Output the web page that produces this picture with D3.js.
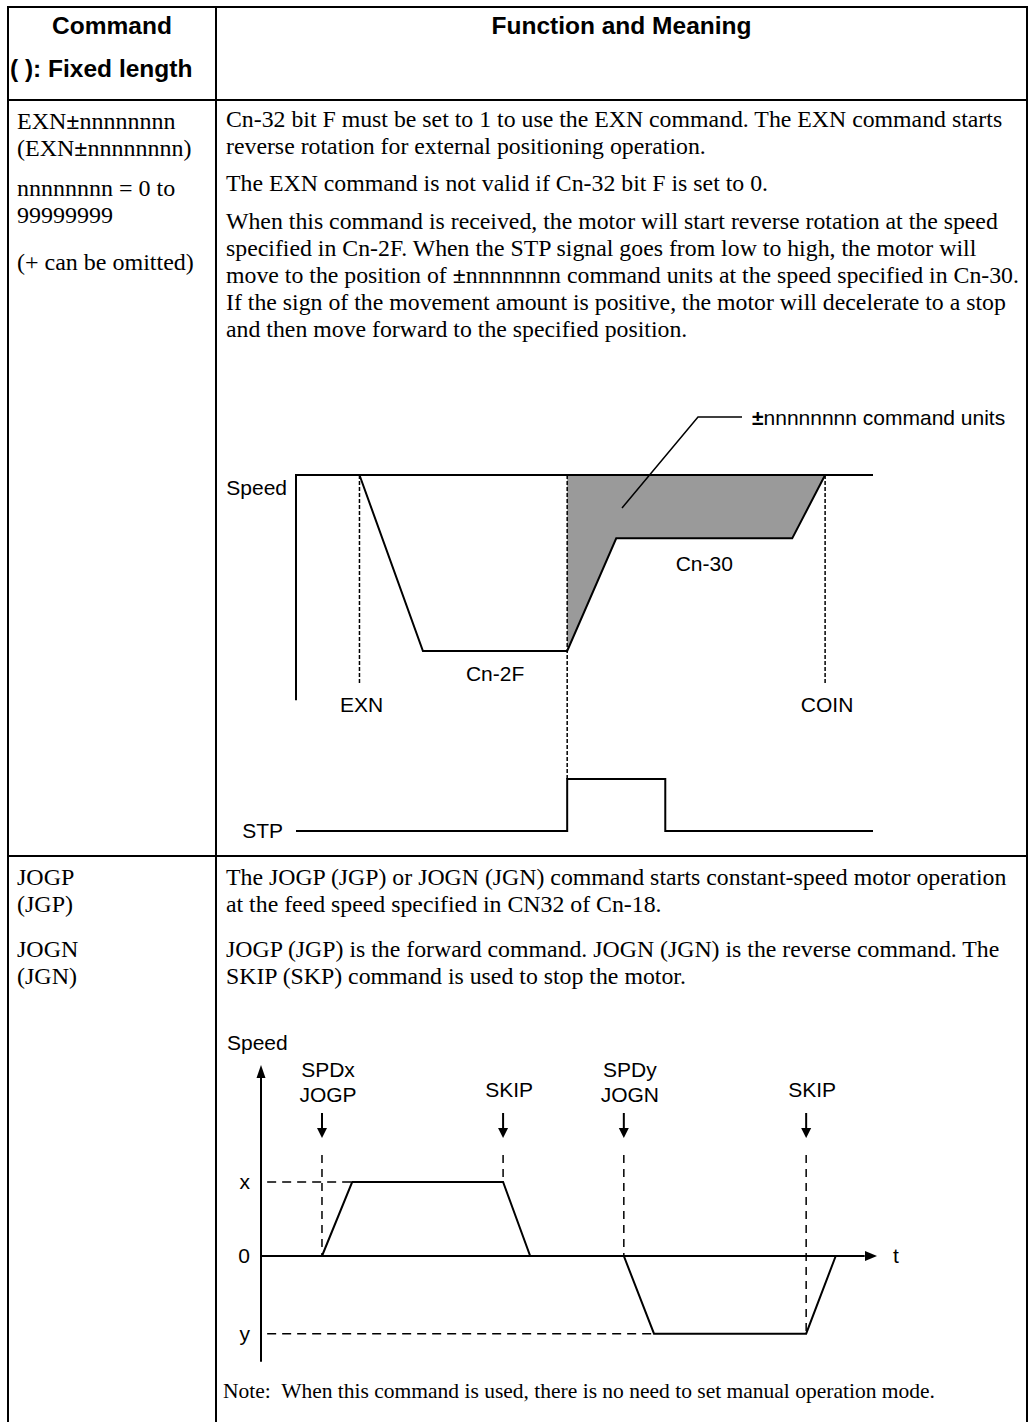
<!DOCTYPE html>
<html>
<head>
<meta charset="utf-8">
<script src="https://cdn.jsdelivr.net/npm/d3@7"></script>
<style>
body { margin: 0; background: #fff; }
svg { display: block; }
</style>
</head>
<body>
<script>
var width = 1035,
	height = 1422;

var serif = "'Liberation Serif','Times New Roman',serif";
var sans = "'Liberation Sans',Arial,Helvetica,sans-serif";

// table text
var headerTitles = ["Command", "( ): Fixed length", "Function and Meaning"];
var exnCommandLines = ["EXN±nnnnnnnn", "(EXN±nnnnnnnn)", "nnnnnnnn = 0 to", "99999999", "(+ can be omitted)"];
var exnCommandY = [129, 156, 196, 223, 270];
var exnMeaningLines = [
	"Cn-32 bit F must be set to 1 to use the EXN command. The EXN command starts",
	"reverse rotation for external positioning operation.",
	"The EXN command is not valid if Cn-32 bit F is set to 0.",
	"When this command is received, the motor will start reverse rotation at the speed",
	"specified in Cn-2F. When the STP signal goes from low to high, the motor will",
	"move to the position of ±nnnnnnnn command units at the speed specified in Cn-30.",
	"If the sign of the movement amount is positive, the motor will decelerate to a stop",
	"and then move forward to the specified position."
];
var exnMeaningY = [127, 154, 191, 229, 256, 283, 310, 337];
var jogCommandLines = ["JOGP", "(JGP)", "JOGN", "(JGN)"];
var jogMeaningLines = [
	"The JOGP (JGP) or JOGN (JGN) command starts constant-speed motor operation",
	"at the feed speed specified in CN32 of Cn-18.",
	"JOGP (JGP) is the forward command. JOGN (JGN) is the reverse command. The",
	"SKIP (SKP) command is used to stop the motor."
];
var jogLinesY = [885, 912, 957, 984];
var noteText = "Note:  When this command is used, there is no need to set manual operation mode.";

// EXN diagram: time 0..100, speed 0 (top) .. -100 (Cn-2F)
var exnProfileT = [11, 22, 47, 55.5, 86, 91.7];
var exnProfileV = [0, -100, -100, -36, -36, 0];
var exnMarkLabels = ["EXN", "COIN"];
var exnMarkT = [11, 91.7];
var exnStopT = 47;
var stpT = [0, 47, 47, 64, 64, 100];
var stpLevel = [0, 0, 1, 1, 0, 0];

// JOG diagram: time 0..100, speed x = 100, y = -105
var jogProfileT = [9.9, 14.8, 39.3, 43.7, 58.9, 63.8, 88.5, 93.3];
var jogProfileV = [0, 100, 100, 0, 0, -105, -105, 0];
var jogLevels = [100, 0, -105];
var jogLevelLabels = ["x", "0", "y"];
var jogCmdLabels = [["SPDx", "JOGP"], ["SKIP"], ["SPDy", "JOGN"], ["SKIP"]];
var jogCmdT = [9.9, 39.3, 58.9, 88.5];
var jogCmdV = [0, 100, 0, -105];

var svg = d3.select("body").append("svg")
	.attr("width", width)
	.attr("height", height);

svg.append("rect").attr("width", width).attr("height", height).attr("fill", "#fff");

// ---- table frame
var tableLeft = 8, tableMid = 216, tableRight = 1027;
var grid = svg.append("g").attr("stroke", "#000").attr("stroke-width", 2);
[7, 100, 856].forEach(function(y) {
	grid.append("line").attr("x1", tableLeft - 1).attr("x2", tableRight + 1).attr("y1", y).attr("y2", y);
});
[tableLeft, tableMid, tableRight].forEach(function(x) {
	grid.append("line").attr("x1", x).attr("x2", x).attr("y1", 6).attr("y2", height);
});

// header
function headText(x, y, t, anchor) {
	svg.append("text")
		.attr("x", x).attr("y", y)
		.attr("text-anchor", anchor)
		.style("font-family", sans).style("font-weight", "bold").style("font-size", "24.5px")
		.text(t);
}
headText((tableLeft + tableMid) / 2, 34, headerTitles[0], "middle");
headText(10, 77, headerTitles[1], "start");
headText((tableMid + tableRight) / 2, 34, headerTitles[2], "middle");

// body text, "±" is bold in the original
function bodyLines(x, lines, ys, size) {
	lines.forEach(function(line, i) {
		var t = svg.append("text")
			.attr("x", x).attr("y", ys[i])
			.style("font-family", serif).style("font-size", size + "px")
			.style("white-space", "pre");
		line.split("±").forEach(function(part, j) {
			if (j > 0) t.append("tspan").style("font-weight", "bold").text("±");
			t.append("tspan").text(part);
		});
	});
}
bodyLines(17, exnCommandLines, exnCommandY, 24);
bodyLines(226, exnMeaningLines, exnMeaningY, 23.8);
bodyLines(17, jogCommandLines, jogLinesY, 24);
bodyLines(226, jogMeaningLines, jogLinesY, 23.8);
bodyLines(223, [noteText], [1398], 21.5);

function label(g, x, y, t, anchor) {
	var el = g.append("text")
		.attr("x", x).attr("y", y)
		.attr("text-anchor", anchor || "middle")
		.style("font-family", sans).style("font-size", "21px")
		.attr("fill", "#000");
	t.split("±").forEach(function(part, j) {
		if (j > 0) el.append("tspan").style("font-weight", "bold").text("±");
		el.append("tspan").text(part);
	});
	return el;
}

// ---- EXN diagram
var ex = d3.scaleLinear().domain([0, 100]).range([296, 873]);
var ev = d3.scaleLinear().domain([0, -100]).range([475, 651]);
var stpY = d3.scaleLinear().domain([0, 1]).range([831, 779]);
var exn = svg.append("g");

var exnPts = exnProfileT.map(function(t, i) { return [t, exnProfileV[i]]; });
var lineE = d3.line().x(function(d) { return ex(d[0]); }).y(function(d) { return ev(d[1]); });

// shaded command units area
var shaded = [[exnStopT, 0]].concat(exnPts.filter(function(d) { return d[0] >= exnStopT; }));
exn.append("path")
	.datum(shaded)
	.attr("d", lineE.curve(d3.curveLinearClosed))
	.attr("fill", "#9a9a9a")
	.attr("stroke", "none");
lineE.curve(d3.curveLinear);

// axis
exn.append("path")
	.attr("d", "M" + ex(0) + "," + ev(-128) + "V" + ev(0) + "H" + ex(100))
	.attr("fill", "none").attr("stroke", "#000").attr("stroke-width", 2);
label(exn, 287, 495, "Speed", "end");

// dashed markers
exnMarkT.forEach(function(t, i) {
	exn.append("line")
		.attr("x1", ex(t)).attr("x2", ex(t)).attr("y1", ev(0)).attr("y2", 683)
		.attr("stroke", "#000").attr("stroke-width", 1.5).attr("stroke-dasharray", "4,2");
	label(exn, ex(t) + 2, 712, exnMarkLabels[i]);
});
exn.append("line")
	.attr("x1", ex(exnStopT)).attr("x2", ex(exnStopT)).attr("y1", ev(0)).attr("y2", stpY(1))
	.attr("stroke", "#000").attr("stroke-width", 1.5).attr("stroke-dasharray", "4,2");

exn.append("path")
	.datum(exnPts)
	.attr("d", lineE)
	.attr("fill", "none").attr("stroke", "#000").attr("stroke-width", 2)
	.attr("stroke-linejoin", "miter");

label(exn, (ex(22) + ex(47)) / 2 + 0, 681, "Cn-2F");
label(exn, (ex(55.5) + ex(86)) / 2, 571, "Cn-30");

// leader to the shaded area
exn.append("path")
	.attr("d", "M622,508L698,417H742")
	.attr("fill", "none").attr("stroke", "#000").attr("stroke-width", 1.5);
label(exn, 752, 425, "±nnnnnnnn command units", "start");

// STP signal
var stpPts = stpT.map(function(t, i) { return [t, stpLevel[i]]; });
exn.append("path")
	.datum(stpPts)
	.attr("d", d3.line().x(function(d) { return ex(d[0]); }).y(function(d) { return stpY(d[1]); }))
	.attr("fill", "none").attr("stroke", "#000").attr("stroke-width", 2);
label(exn, 283, 838, "STP", "end");

// ---- JOG diagram
var jx = d3.scaleLinear().domain([0, 100]).range([261, 877]);
var jv = d3.scaleLinear().domain([0, 100]).range([1256, 1182]);
var jog = svg.append("g");

// axes
jog.append("line")
	.attr("x1", jx(0)).attr("x2", jx(0)).attr("y1", jv(-143)).attr("y2", jv(245))
	.attr("stroke", "#000").attr("stroke-width", 2);
jog.append("path")
	.attr("d", "M" + jx(0) + "," + jv(258) + "l-4.5,13h9z").attr("fill", "#000");
jog.append("line")
	.attr("x1", jx(0)).attr("x2", jx(98)).attr("y1", jv(0)).attr("y2", jv(0))
	.attr("stroke", "#000").attr("stroke-width", 2);
jog.append("path")
	.attr("d", "M" + jx(100) + "," + jv(0) + "l-12,-5v10z").attr("fill", "#000");
label(jog, 893, jv(0) + 7, "t", "start");
label(jog, 227, 1050, "Speed", "start");

var levelAxis = d3.axisLeft(jv)
	.tickValues(jogLevels)
	.tickFormat(function(d, i) { return jogLevelLabels[i]; })
	.tickSize(0)
	.tickPadding(11);
var la = jog.append("g")
	.attr("transform", "translate(" + jx(0) + ",0)")
	.call(levelAxis);
la.select(".domain").remove();
la.selectAll("text").style("font-family", sans).style("font-size", "21px").attr("fill", "#000");

// dashed level guides
[[100, 14.8], [-105, 63.8]].forEach(function(d) {
	jog.append("line")
		.attr("x1", jx(1)).attr("x2", jx(d[1])).attr("y1", jv(d[0])).attr("y2", jv(d[0]))
		.attr("stroke", "#000").attr("stroke-width", 1.5).attr("stroke-dasharray", "9,6");
});

// command arrows
jogCmdT.forEach(function(t, i) {
	var x = jx(t);
	jog.append("line")
		.attr("x1", x).attr("x2", x).attr("y1", 1155).attr("y2", jv(jogCmdV[i]))
		.attr("stroke", "#000").attr("stroke-width", 1.5).attr("stroke-dasharray", "8,6");
	jog.append("line")
		.attr("x1", x).attr("x2", x).attr("y1", 1113).attr("y2", 1130)
		.attr("stroke", "#000").attr("stroke-width", 2);
	jog.append("path")
		.attr("d", "M" + (x - 5) + ",1128h10l-5,10z").attr("fill", "#000");
	var lines = jogCmdLabels[i];
	lines.forEach(function(s, j) {
		var y = lines.length === 2 ? 1077 + j * 25 : 1097;
		label(jog, x + 6, y, s);
	});
});

var jogPts = jogProfileT.map(function(t, i) { return [t, jogProfileV[i]]; });
jog.append("path")
	.datum(jogPts)
	.attr("d", d3.line().x(function(d) { return jx(d[0]); }).y(function(d) { return jv(d[1]); }))
	.attr("fill", "none").attr("stroke", "#000").attr("stroke-width", 2);
</script>
</body>
</html>
